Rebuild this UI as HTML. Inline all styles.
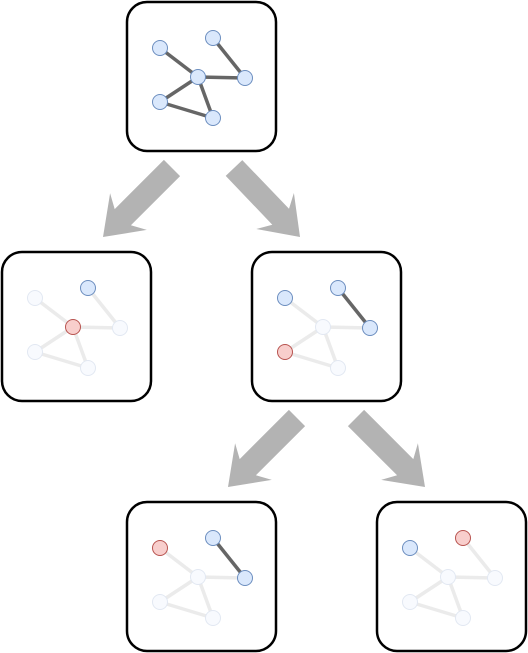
<!DOCTYPE html>
<html><head><meta charset="utf-8"><style>html,body{margin:0;padding:0;background:#fff}svg{display:block}</style></head>
<body>
<svg id="s" width="528" height="653" viewBox="0 0 528 653" xmlns="http://www.w3.org/2000/svg"></svg>
<script>
const NS="http://www.w3.org/2000/svg";
const svg=document.getElementById('s');
const nodePos=[[33,46],[86,36],[71,75],[118,76],[33,100],[86,116]];
const edges=[[0,2],[1,3],[2,3],[2,4],[4,5],[2,5]];
const boxes=[
 {x:127,y:2,n:"bbbbbb",e:[0,1,2,3,4,5],name:"root-graph"},
 {x:2,y:252,n:"fbrfff",e:[],name:"left-subgraph"},
 {x:252,y:252,n:"bbfbrf",e:[1],name:"right-subgraph"},
 {x:127,y:502,n:"rbfbff",e:[1],name:"bottom-left-subgraph"},
 {x:377,y:502,n:"brffff",e:[],name:"bottom-right-subgraph"}
];
const arrows=[[172,168,103,237],[234,168,300,237],[297,418,228,487],[356,418,425,487]];
function el(t,a,p){const e=document.createElementNS(NS,t);for(const k in a)e.setAttribute(k,a[k]);(p||svg).appendChild(e);return e;}
boxes.forEach(b=>{
 const g=el('g',{});
 
 
 const r=el('rect',{x:b.x,y:b.y,width:149,height:149,rx:20,fill:'#fff',stroke:'#000','stroke-width':2.5},g);
 
 
 edges.forEach((ed,i)=>{
  const a=nodePos[ed[0]],c=nodePos[ed[1]];const on=b.e.includes(i);
  const l=el('line',{x1:b.x+a[0],y1:b.y+a[1],x2:b.x+c[0],y2:b.y+c[1],stroke:on?'#666':'#ebebeb','stroke-width':3.5},g);
  
  
 });
 nodePos.forEach((p,i)=>{
  const s=b.n[i];
  const fill=s==='r'?'#f8cecc':s==='b'?'#dae8fc':'#f8fafe';
  const st=s==='r'?'#b85450':s==='b'?'#6c8ebf':'#e2e8f2';
  const c=el('circle',{cx:b.x+p[0],cy:b.y+p[1],r:7.5,fill:fill,stroke:st,'stroke-width':1},g);
  
  
 });
});
arrows.forEach(a=>{
 const [x1,y1,x2,y2]=a;const dx=x2-x1,dy=y2-y1,L=Math.hypot(dx,dy);
 const ux=dx/L,uy=dy/L,px=-uy,py=ux;
 const sw=11.5,hw=26,hl=36,notch=8;
 const pt=(t,o)=>[(x1+ux*t+px*o).toFixed(1),(y1+uy*t+py*o).toFixed(1)].join(',');
 const pts=[pt(0,sw),pt(L-hl+notch,sw),pt(L-hl,hw),pt(L,0),pt(L-hl,-hw),pt(L-hl+notch,-sw),pt(0,-sw)].join(' ');
 const p=el('polygon',{points:pts,fill:'#b3b3b3'});
 
 
});
</script>
</body></html>
